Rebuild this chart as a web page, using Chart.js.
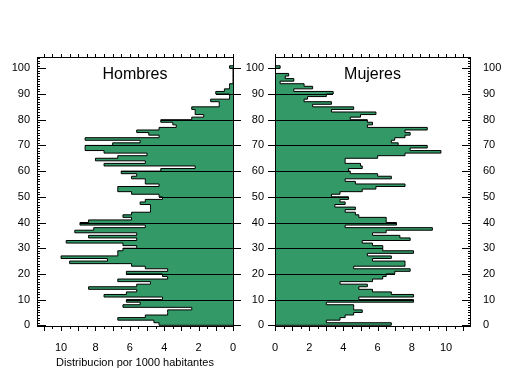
<!DOCTYPE html>
<html>
<head>
<meta charset="utf-8">
<script src="https://cdn.jsdelivr.net/npm/chart.js@4.4.0/dist/chart.umd.min.js"></script>
<style>
  html, body { margin: 0; padding: 0; background: #fff; }
  #wrap { position: relative; width: 509px; height: 376px; }
  #wrap canvas { position: absolute; left: 0; top: 0; }
</style>
</head>
<body>
<div id="wrap">
  <canvas id="hombresChart" width="509" height="376"></canvas>
  <canvas id="mujeresChart" width="509" height="376"></canvas>
</div>
<script>
// Ages 0..100 (one bar per year of age)
const ages = [
  0, 1, 2, 3, 4, 5, 6, 7, 8, 9,
  10, 11, 12, 13, 14, 15, 16, 17, 18, 19,
  20, 21, 22, 23, 24, 25, 26, 27, 28, 29,
  30, 31, 32, 33, 34, 35, 36, 37, 38, 39,
  40, 41, 42, 43, 44, 45, 46, 47, 48, 49,
  50, 51, 52, 53, 54, 55, 56, 57, 58, 59,
  60, 61, 62, 63, 64, 65, 66, 67, 68, 69,
  70, 71, 72, 73, 74, 75, 76, 77, 78, 79,
  80, 81, 82, 83, 84, 85, 86, 87, 88, 89,
  90, 91, 92, 93, 94, 95, 96, 97, 98, 99,
  100
];

// Distribucion por 1000 habitantes
const hombres = [
  4.3, 4.6, 6.7, 5.1, 3.8, 3.8, 2.4, 6.4, 5.4, 6.2,
  4.1, 7.5, 6.2, 5.6, 8.4, 5.6, 4.8, 6.7, 3.8, 4.1,
  6.2, 3.8, 5.1, 5.9, 9.5, 7.3, 10.0, 6.7, 6.7, 6.4,
  5.6, 6.4, 9.7, 5.6, 8.4, 5.6, 9.2, 8.1, 5.1, 8.9,
  8.4, 5.9, 6.4, 5.9, 4.8, 4.8, 4.8, 5.4, 5.1, 4.1,
  4.3, 5.9, 6.7, 6.7, 4.3, 5.1, 5.1, 5.9, 5.6, 6.5,
  4.2, 2.2, 7.5, 5.1, 8.0, 6.7, 5.0, 7.5, 8.6, 8.6,
  7.0, 5.4, 8.6, 4.3, 4.9, 5.6, 4.3, 3.3, 3.5, 4.2,
  2.4, 1.7, 2.2, 2.2, 2.4, 0.8, 0.8, 1.3, 0.2, 0.2,
  1.0, 0.5, 0.2, 0.2, 0, 0, 0, 0, 0, 0,
  0.2
];

const mujeres = [
  6.8, 3.0, 3.8, 4.1, 4.6, 5.1, 4.6, 4.6, 3.0, 8.1,
  4.9, 8.1, 6.8, 5.7, 4.9, 5.4, 3.8, 5.7, 6.3, 6.5,
  7.0, 7.9, 4.6, 7.6, 7.6, 5.7, 6.8, 5.4, 8.1, 6.3,
  6.3, 5.7, 5.1, 7.9, 7.3, 5.7, 6.5, 9.2, 4.1, 7.1,
  6.5, 6.5, 4.9, 4.7, 4.1, 4.7, 3.5, 4.1, 3.8, 4.3,
  3.3, 3.8, 5.1, 5.9, 7.6, 4.7, 4.1, 6.8, 6.0, 4.4,
  4.3, 5.1, 5.0, 4.1, 4.1, 6.0, 7.6, 9.7, 7.9, 8.9,
  7.2, 6.8, 7.0, 7.6, 7.9, 7.6, 8.9, 5.4, 5.7, 5.4,
  4.4, 5.0, 5.9, 3.3, 4.6, 2.2, 3.3, 1.7, 1.9, 3.0,
  3.4, 1.1, 2.2, 1.7, 0.3, 1.1, 0.6, 0.8, 0, 0,
  0.3
];

const yTickLabels = [0, 10, 20, 30, 40, 50, 60, 70, 80, 90, 100];
const xTickLabels = [0, 2, 4, 6, 8, 10];

const GREEN = '#339966';
const FONT = "'Liberation Sans', Arial, sans-serif";

// step outline: each age covers [age, age + 1], closed on the zero line
function stepPoints(values) {
  const top = ages[ages.length - 1] + 1;
  const pts = [{ x: 0, y: ages[0] }];
  ages.forEach((age, i) => pts.push({ x: values[i], y: age }));
  pts.push({ x: values[values.length - 1], y: top });
  pts.push({ x: 0, y: top });
  return pts;
}

function crispLine(ctx, x1, y1, x2, y2) {
  ctx.beginPath();
  if (y1 === y2) {
    const y = Math.round(y1) + 0.5;
    ctx.moveTo(Math.round(x1), y);
    ctx.lineTo(Math.round(x2), y);
  } else {
    const x = Math.round(x1) + 0.5;
    ctx.moveTo(x, Math.round(y1));
    ctx.lineTo(x, Math.round(y2));
  }
  ctx.stroke();
}

// box, tick marks, decade lines and the panel title
const panelDecor = {
  id: 'panelDecor',
  afterDatasetsDraw(chart, args, opts) {
    const { ctx, chartArea: a, scales: { x, y } } = chart;
    const values = opts.values;
    ctx.save();
    ctx.strokeStyle = '#000';
    ctx.lineWidth = 1;

    // decade lines from the zero line out to the bar edge
    yTickLabels.forEach(d => {
      if (d === 0) return;
      const i = ages.indexOf(d);
      const ext = Math.max(values[i - 1] || 0, values[i] || 0);
      crispLine(ctx, x.getPixelForValue(0), y.getPixelForValue(d), x.getPixelForValue(ext), y.getPixelForValue(d));
    });

    // frame
    crispLine(ctx, a.left, a.top, a.right + 1, a.top);
    crispLine(ctx, a.left, a.bottom, a.right + 1, a.bottom);
    crispLine(ctx, a.left, a.top, a.left, a.bottom + 1);
    crispLine(ctx, a.right, a.top, a.right, a.bottom + 1);

    // top / bottom ticks every half unit
    for (let v = 0; v <= x.max + 0.001; v += 0.5) {
      const px = x.getPixelForValue(v);
      const whole = Math.abs(v - Math.round(v)) < 0.01;
      crispLine(ctx, px, a.top - 3, px, a.top);
      crispLine(ctx, px, a.bottom, px, a.bottom + (whole ? 5 : 3));
    }

    // age ticks
    for (let v = 0; v <= y.max; v++) {
      const py = y.getPixelForValue(v);
      const decade = v % 10 === 0 && v <= 100;
      if (opts.side === 'left') {
        crispLine(ctx, a.left, py, a.left + (decade ? 9 : 3), py);
        if (decade) crispLine(ctx, a.right, py, a.right + 8, py);
      } else {
        crispLine(ctx, a.right - (decade ? 8 : 2), py, a.right, py);
        if (decade) crispLine(ctx, a.left - 7, py, a.left, py);
      }
    }

    ctx.fillStyle = '#000';
    ctx.font = '16px ' + FONT;
    ctx.textAlign = 'center';
    ctx.textBaseline = 'middle';
    ctx.fillText(opts.title, (a.left + a.right) / 2, a.top + 18);
    ctx.restore();
  }
};

function yAxis(position, width, padding, showLabels) {
  return {
    type: 'linear',
    position: position,
    min: -0.27,
    max: 104.4,
    afterFit: s => { s.width = width; },
    afterBuildTicks: s => { s.ticks = yTickLabels.map(v => ({ value: v })); },
    grid: { display: false, drawTicks: false },
    border: { display: false },
    ticks: { display: showLabels, padding: padding, color: '#000', font: { family: FONT, size: 11 } }
  };
}

function buildPanel(canvasId, values, side, title) {
  const scales = {
    x: {
      type: 'linear',
      reverse: side === 'left',
      min: 0,
      max: 11.4,
      afterFit: s => { s.height = 50; },
      afterBuildTicks: s => { s.ticks = xTickLabels.map(v => ({ value: v })); },
      grid: { display: false, drawTicks: false },
      border: { display: false },
      ticks: { padding: 15, color: '#000', font: { family: FONT, size: 11 } },
      title: {
        display: side === 'left',
        text: 'Distribucion por 1000 habitantes',
        color: '#000',
        font: { family: FONT, size: 11 },
        padding: { top: 0, bottom: 6 }
      }
    }
  };
  let padding;
  if (side === 'left') {
    scales.y = yAxis('left', 37, 7, true);
    padding = { top: 57, right: 276, bottom: 0, left: 0 };
  } else {
    scales.y = yAxis('left', 35, 11, true);
    scales.y2 = yAxis('right', 39, 13, true);
    padding = { top: 57, right: 0, bottom: 0, left: 240 };
  }

  return new Chart(document.getElementById(canvasId), {
    type: 'line',
    data: {
      datasets: [{
        label: title,
        data: stepPoints(values),
        stepped: 'after',
        fill: 'origin',
        backgroundColor: GREEN,
        borderColor: '#000',
        borderWidth: 1,
        pointRadius: 0,
        tension: 0
      }]
    },
    options: {
      indexAxis: 'y',
      responsive: false,
      animation: false,
      devicePixelRatio: 1,
      events: [],
      layout: { padding: padding },
      scales: scales,
      plugins: {
        legend: { display: false },
        tooltip: { enabled: false },
        panelDecor: { values: values, side: side, title: title }
      }
    },
    plugins: [panelDecor]
  });
}

buildPanel('hombresChart', hombres, 'left', 'Hombres');
buildPanel('mujeresChart', mujeres, 'right', 'Mujeres');
</script>
</body>
</html>
